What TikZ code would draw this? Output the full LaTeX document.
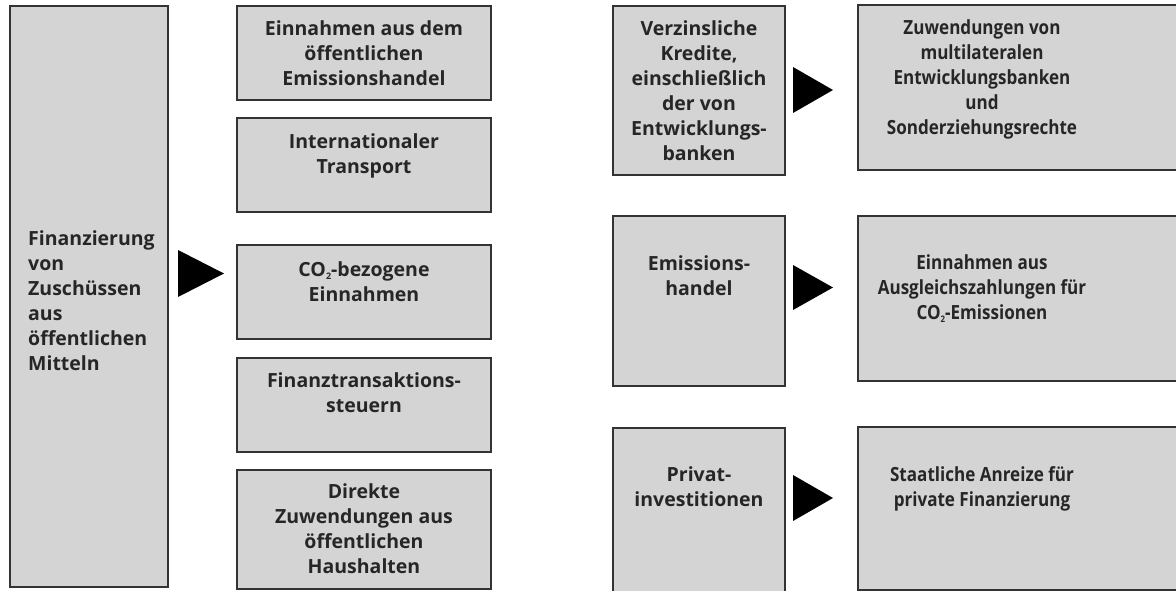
\documentclass[tikz,border=0pt]{standalone}
\usepackage{fontspec}
\setmainfont{Open Sans}
\newfontfamily\narrowfont{Open Sans}[FakeStretch=0.875]
\definecolor{boxgray}{HTML}{D4D4D4}
\definecolor{edgegray}{HTML}{333333}
\newcommand\firstline{\rule{0pt}{20pt}}
\newcommand\subtwo{\raisebox{-3.5pt}{\fontsize{9}{9}\selectfont 2}}
\begin{document}
\begin{tikzpicture}[x=1pt,y=-1pt,
  box/.style={draw=edgegray, fill=boxgray, line width=1.4pt, rectangle, inner sep=0pt, outer sep=0pt, anchor=north west},
  txt/.style={font=\fontsize{19.5}{25}\selectfont\bfseries, align=center, inner sep=0pt, anchor=north, text=black!85},
  ntxt/.style={txt, font=\fontsize{19.5}{25}\selectfont\narrowfont\bfseries},
  ltxt/.style={txt, align=left, anchor=north west},
  tri/.style={fill=black}]
\clip (0,0) rectangle (1176,591);
\fill[white] (0,0) rectangle (1176,591);
% left column
\node[box, minimum width=158pt, minimum height=581pt] (L) at (10,6) {};
\node[ltxt] (tL) at (28,225) {\firstline Finanzierung\\von\\Zuschüssen\\aus\\öffentlichen\\Mitteln};
% second column
\node[box, minimum width=254pt, minimum height=94pt] (c1) at (237,6) {};
\node[box, minimum width=254pt, minimum height=94pt] (c2) at (237,118) {};
\node[box, minimum width=254pt, minimum height=94pt] (c3) at (237,245) {};
\node[box, minimum width=254pt, minimum height=94pt] (c4) at (237,358) {};
\node[box, minimum width=254pt, minimum height=119pt] (c5) at (237,470) {};
\node[txt] (t1) at (364,15) {\firstline Einnahmen aus dem\\öffentlichen\\Emissionshandel};
\node[txt] (t2) at (364,128) {\firstline Internationaler\\Transport};
\node[txt] (t3) at (364,256) {\firstline CO\subtwo-bezogene\\Einnahmen};
\node[txt] (t4) at (364,367) {\firstline Finanztransaktions-\\steuern};
\node[txt] (t5) at (364,478) {\firstline Direkte\\Zuwendungen aus\\öffentlichen\\Haushalten};
% right part
\node[box, minimum width=172pt, minimum height=169pt] (A) at (613,6) {};
\node[box, minimum width=172pt, minimum height=170pt] (B) at (613,216) {};
\node[box, minimum width=172pt, minimum height=180pt] (C) at (613,428) {};
\node[box, minimum width=340pt, minimum height=165pt] (D) at (858,5) {};
\node[box, minimum width=340pt, minimum height=165pt] (E) at (858,216) {};
\node[box, minimum width=340pt, minimum height=163pt] (F) at (858,427) {};
\node[txt] (tA) at (699,15) {\firstline Verzinsliche\\Kredite,\\einschließlich\\der von\\Entwicklungs-\\banken};
\node[txt] (tB) at (699,250) {\firstline Emissions-\\handel};
\node[txt] (tC) at (699,461) {\firstline Privat-\\investitionen};
\node[ntxt] (tD) at (982,14) {\firstline Zuwendungen von\\multilateralen\\Entwicklungsbanken\\und\\Sonderziehungsrechte};
\node[ntxt] (tE) at (982,249) {\firstline Einnahmen aus\\Ausgleichszahlungen für\\CO\subtwo-Emissionen};
\node[ntxt] (tF) at (982,461) {\firstline Staatliche Anreize für\\private Finanzierung};
% arrow triangles
\coordinate (a0) at (178,250);
\fill[tri] (a0) -- (178,297) -- (224,273.5) -- cycle;
\fill[tri] (793,67) -- (793,113) -- (833,90) -- cycle;
\fill[tri] (793,265) -- (793,310) -- (833,287.5) -- cycle;
\fill[tri] (793,475) -- (793,521) -- (833,498) -- cycle;
\end{tikzpicture}
\end{document}
